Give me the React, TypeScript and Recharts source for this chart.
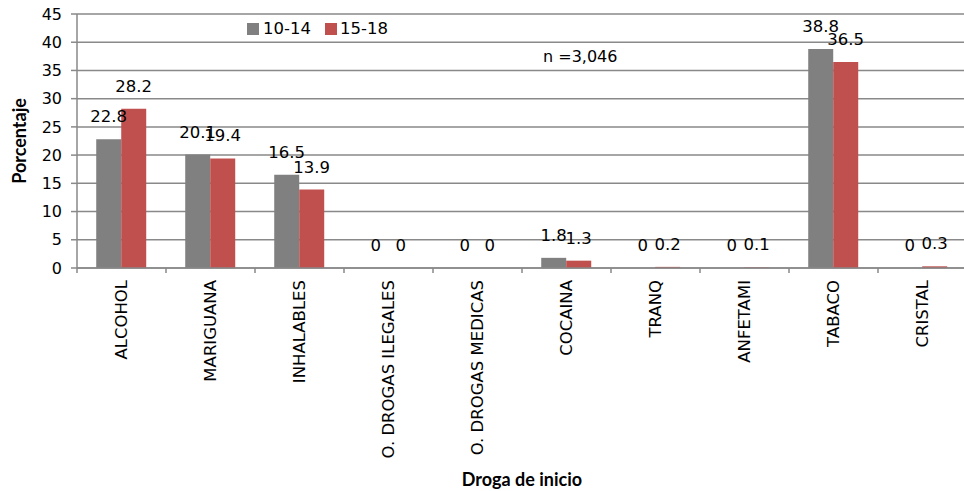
import React from 'react';
import { BarChart, Bar, XAxis, YAxis, CartesianGrid, LabelList } from 'recharts';

const categories = [
  'ALCOHOL',
  'MARIGUANA',
  'INHALABLES',
  'O. DROGAS ILEGALES',
  'O. DROGAS MEDICAS',
  'COCAINA',
  'TRANQ',
  'ANFETAMI',
  'TABACO',
  'CRISTAL',
];
const age10to14 = [22.8, 20.1, 16.5, 0, 0, 1.8, 0, 0, 38.8, 0];
const age15to18 = [28.2, 19.4, 13.9, 0, 0, 1.3, 0.2, 0.1, 36.5, 0.3];
const yTicks = [0, 5, 10, 15, 20, 25, 30, 35, 40, 45];

const data = categories.map((name, i) => ({
  name,
  a: age10to14[i],
  b: age15to18[i],
}));

const GRAY = '#808080';
const RED = '#C0504D';
const GRID = '#898989';
const FONT = '"DejaVu Sans", sans-serif';
const TITLE_FONT = 'Lato, sans-serif';

// category label rotated, plus a tick mark on the left edge of each band
const CategoryTick = (props: any) => {
  const { x, y, payload, width, visibleTicksCount } = props;
  const band = width / visibleTicksCount;
  const axisY = y - 2;
  return (
    <g>
      <line x1={x - band / 2} x2={x - band / 2} y1={axisY} y2={axisY + 5} stroke={GRID} strokeWidth={1.5} />
      <text
        x={x}
        y={axisY + 12}
        transform={`rotate(-90, ${x}, ${axisY + 12})`}
        textAnchor="end"
        dy="0.35em"
        fontSize={16.5}
        fontFamily={FONT}
        fill="#000"
      >
        {payload.value}
      </text>
    </g>
  );
};

// value label above each bar, drawn also for zero values
const ValueLabel = (props: any) => {
  const { x, y, width, value } = props;
  return (
    <text
      x={x + width / 2}
      y={y - 17}
      textAnchor="middle"
      fontSize={16.5}
      fontFamily={FONT}
      fill="#000"
    >
      {value}
    </text>
  );
};

const App: React.FC = () => {
  return (
    <div style={{ position: 'absolute', left: 0, top: 0, width: 964, height: 491, overflow: 'hidden', background: '#fff' }}>
      <BarChart
        width={967}
        height={491}
        data={data}
        margin={{ top: 14, right: 0, bottom: 0, left: 0 }}
        barCategoryGap="21.6%"
        barGap={0}
      >
        <CartesianGrid vertical={false} stroke={GRID} strokeWidth={1.5} />
        <XAxis
          dataKey="name"
          height={223}
          interval={0}
          tickLine={false}
          tickSize={0}
          tickMargin={2}
          axisLine={{ stroke: GRID, strokeWidth: 1.5 }}
          tick={<CategoryTick />}
          label={{
            content: (p: any) => {
              const vb = p.viewBox;
              return (
                <text
                  x={vb.x + vb.width / 2}
                  y={479}
                  textAnchor="middle"
                  dominantBaseline="central"
                  fontSize={18}
                  fontWeight="bold"
                  fontFamily={TITLE_FONT}
                  fill="#000"
                >
                  Droga de inicio
                </text>
              );
            },
          }}
        />
        <YAxis
          width={77}
          domain={[0, 45]}
          ticks={yTicks}
          interval={0}
          tickSize={6}
          tickMargin={9}
          tickLine={{ stroke: GRID, strokeWidth: 1.5 }}
          axisLine={{ stroke: GRID, strokeWidth: 1.5 }}
          tick={{ fontSize: 16, fontFamily: FONT, fill: '#000' }}
          label={{
            content: (p: any) => {
              const vb = p.viewBox;
              const cy = vb.y + vb.height / 2;
              return (
                <text
                  x={19}
                  y={cy}
                  transform={`rotate(-90, 19, ${cy})`}
                  textAnchor="middle"
                  dominantBaseline="central"
                  fontSize={18}
                  fontWeight="bold"
                  fontFamily={TITLE_FONT}
                  fill="#000"
                >
                  Porcentaje
                </text>
              );
            },
          }}
        />
        <Bar dataKey="a" fill={GRAY} minPointSize={0.01} isAnimationActive={false}>
          <LabelList dataKey="a" content={<ValueLabel />} />
        </Bar>
        <Bar dataKey="b" fill={RED} minPointSize={0.01} isAnimationActive={false}>
          <LabelList dataKey="b" content={<ValueLabel />} />
        </Bar>
      </BarChart>

      <div style={{ position: 'absolute', left: 247, top: 19, display: 'flex', alignItems: 'center', fontFamily: FONT, fontSize: 16.5, color: '#000', lineHeight: '20px' }}>
        <span style={{ width: 12, height: 12, background: GRAY, display: 'inline-block', marginRight: 4 }} />
        <span style={{ marginRight: 14 }}>10-14</span>
        <span style={{ width: 12, height: 12, background: RED, display: 'inline-block', marginRight: 3 }} />
        <span>15-18</span>
      </div>

      <div style={{ position: 'absolute', left: 543, top: 47, fontFamily: FONT, fontSize: 16, color: '#000', lineHeight: '20px' }}>
        n =3,046
      </div>
    </div>
  );
};

export default App;
